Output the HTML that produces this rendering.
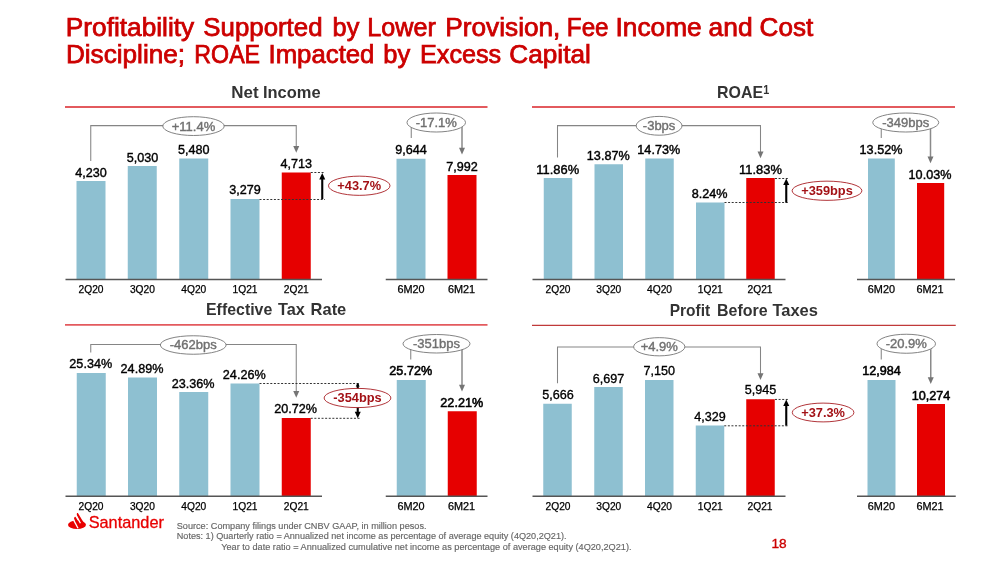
<!DOCTYPE html>
<html lang="en"><head><meta charset="utf-8"><title>Profitability Supported by Lower Provision, Fee Income and Cost Discipline</title>
<style>html,body{margin:0;padding:0;background:#fff}body{width:1000px;height:561px;overflow:hidden}svg{display:block;font-family:"Liberation Sans", sans-serif}</style></head><body>
<svg width="1000" height="561" viewBox="0 0 1000 561">
<rect width="1000" height="561" fill="#fff"/>
<text y="35.7" font-size="24.9" fill="#cc0000" stroke="#cc0000" stroke-width="0.75"><tspan x="65.89" textLength="128.23" lengthAdjust="spacingAndGlyphs">Profitability</tspan> <tspan x="203.36" textLength="119.14" lengthAdjust="spacingAndGlyphs">Supported</tspan> <tspan x="332.58" textLength="26.72" lengthAdjust="spacingAndGlyphs">by</tspan> <tspan x="367.38" textLength="68.41" lengthAdjust="spacingAndGlyphs">Lower</tspan> <tspan x="445.29" textLength="115.13" lengthAdjust="spacingAndGlyphs">Provision,</tspan> <tspan x="566.85" textLength="41.71" lengthAdjust="spacingAndGlyphs">Fee</tspan> <tspan x="615.59" textLength="86.07" lengthAdjust="spacingAndGlyphs">Income</tspan> <tspan x="708.54" textLength="44.09" lengthAdjust="spacingAndGlyphs">and</tspan> <tspan x="759.55" textLength="53.64" lengthAdjust="spacingAndGlyphs">Cost</tspan></text>
<text y="62.7" font-size="24.9" fill="#cc0000" stroke="#cc0000" stroke-width="0.75"><tspan x="65.90" textLength="119.21" lengthAdjust="spacingAndGlyphs">Discipline;</tspan> <tspan x="194.34" textLength="65.77" lengthAdjust="spacingAndGlyphs">ROAE</tspan> <tspan x="268.53" textLength="105.91" lengthAdjust="spacingAndGlyphs">Impacted</tspan> <tspan x="383.38" textLength="26.93" lengthAdjust="spacingAndGlyphs">by</tspan> <tspan x="419.97" textLength="81.26" lengthAdjust="spacingAndGlyphs">Excess</tspan> <tspan x="509.35" textLength="81.41" lengthAdjust="spacingAndGlyphs">Capital</tspan></text>
<line x1="65" y1="107" x2="487.5" y2="107" stroke="#e35a5e" stroke-width="1.8"/>
<text y="97.5" font-size="16.3" fill="#333" font-weight="bold"><tspan x="231.36" textLength="27.30" lengthAdjust="spacingAndGlyphs">Net</tspan> <tspan x="262.99" textLength="57.63" lengthAdjust="spacingAndGlyphs">Income</tspan></text>
<rect x="76.5" y="181" width="29" height="98.44999999999999" fill="#8ec0d1"/>
<rect x="127.75" y="166" width="29" height="113.44999999999999" fill="#8ec0d1"/>
<rect x="179.25" y="158.5" width="29" height="120.94999999999999" fill="#8ec0d1"/>
<rect x="230.5" y="199" width="29" height="80.44999999999999" fill="#8ec0d1"/>
<rect x="281.75" y="172.5" width="29" height="106.94999999999999" fill="#e60000"/>
<rect x="396.5" y="158.75" width="29" height="120.69999999999999" fill="#8ec0d1"/>
<rect x="447.5" y="175" width="29" height="104.44999999999999" fill="#e60000"/>
<line x1="65.5" y1="279.45" x2="322" y2="279.45" stroke="#555555" stroke-width="1.4"/>
<line x1="385.75" y1="279.45" x2="487.5" y2="279.45" stroke="#555555" stroke-width="1.4"/>
<text x="91" y="177" font-size="12.6" text-anchor="middle" fill="#000" stroke="#000" stroke-width="0.38">4,230</text>
<text x="142.4" y="161.75" font-size="12.6" text-anchor="middle" fill="#000" stroke="#000" stroke-width="0.38">5,030</text>
<text x="193.75" y="153.75" font-size="12.6" text-anchor="middle" fill="#000" stroke="#000" stroke-width="0.38">5,480</text>
<text x="245" y="194.25" font-size="12.6" text-anchor="middle" fill="#000" stroke="#000" stroke-width="0.38">3,279</text>
<text x="296.25" y="168" font-size="12.6" text-anchor="middle" fill="#000" stroke="#000" stroke-width="0.38">4,713</text>
<text x="411" y="154" font-size="12.6" text-anchor="middle" fill="#000" stroke="#000" stroke-width="0.38">9,644</text>
<text x="462" y="170.5" font-size="12.6" text-anchor="middle" fill="#000" stroke="#000" stroke-width="0.38">7,992</text>
<text x="91" y="293" font-size="10.2" text-anchor="middle" fill="#000" stroke="#000" stroke-width="0.25" textLength="25.0" lengthAdjust="spacingAndGlyphs">2Q20</text>
<text x="142.4" y="293" font-size="10.2" text-anchor="middle" fill="#000" stroke="#000" stroke-width="0.25" textLength="25.0" lengthAdjust="spacingAndGlyphs">3Q20</text>
<text x="193.75" y="293" font-size="10.2" text-anchor="middle" fill="#000" stroke="#000" stroke-width="0.25" textLength="25.0" lengthAdjust="spacingAndGlyphs">4Q20</text>
<text x="245" y="293" font-size="10.2" text-anchor="middle" fill="#000" stroke="#000" stroke-width="0.25" textLength="25.0" lengthAdjust="spacingAndGlyphs">1Q21</text>
<text x="296.25" y="293" font-size="10.2" text-anchor="middle" fill="#000" stroke="#000" stroke-width="0.25" textLength="25.0" lengthAdjust="spacingAndGlyphs">2Q21</text>
<text x="411" y="293" font-size="10.2" text-anchor="middle" fill="#000" stroke="#000" stroke-width="0.25" textLength="27.2" lengthAdjust="spacingAndGlyphs">6M20</text>
<text x="461.5" y="293" font-size="10.2" text-anchor="middle" fill="#000" stroke="#000" stroke-width="0.25" textLength="27.2" lengthAdjust="spacingAndGlyphs">6M21</text>
<polyline points="90.75,161 90.75,125.6 296.25,125.6 296.25,147" fill="none" stroke="#858585" stroke-width="1.05"/>
<polygon points="293.25,146.1 299.25,146.1 296.25,152.7" fill="#757575"/>
<ellipse cx="193.5" cy="126.1" rx="30.7" ry="9.4" fill="#fff" stroke="#757575" stroke-width="0.9"/>
<text x="193.5" y="130.5" font-size="13" text-anchor="middle" fill="#707070" stroke="#707070" stroke-width="0.4">+11.4%</text>
<line x1="411.25" y1="122.5" x2="411.25" y2="138" stroke="#858585" stroke-width="1.05"/>
<line x1="462" y1="122.5" x2="462" y2="148.75" stroke="#8a8a8a" stroke-width="1.5"/>
<polygon points="459.0,147.85 465.0,147.85 462,154.45" fill="#757575"/>
<ellipse cx="436.25" cy="122.5" rx="29.25" ry="9.5" fill="#fff" stroke="#757575" stroke-width="0.9"/>
<text x="436.25" y="126.9" font-size="13" text-anchor="middle" fill="#707070" stroke="#707070" stroke-width="0.4">-17.1%</text>
<line x1="310.75" y1="172.5" x2="325" y2="172.5" stroke="#333" stroke-width="1" stroke-dasharray="2 1.6"/>
<line x1="259.5" y1="199.5" x2="325" y2="199.5" stroke="#333" stroke-width="1" stroke-dasharray="2 1.6"/>
<line x1="322.25" y1="199" x2="322.25" y2="178" stroke="#000" stroke-width="2.1"/>
<polygon points="319.25,179.5 325.25,179.5 322.25,173" fill="#000"/>
<ellipse cx="359.25" cy="185.75" rx="30.75" ry="9.6" fill="#fff" stroke="#a31116" stroke-width="0.85"/>
<text x="359.25" y="190.15" font-size="12.8" text-anchor="middle" fill="#a31116" font-weight="bold">+43.7%</text>
<line x1="532" y1="107" x2="955" y2="107" stroke="#e35a5e" stroke-width="1.8"/>
<text y="97.5" font-size="16.3" fill="#333" font-weight="bold"><tspan x="717.02" textLength="46.02" lengthAdjust="spacingAndGlyphs">ROAE</tspan></text>
<rect x="543.75" y="178" width="28.5" height="101.44999999999999" fill="#8ec0d1"/>
<rect x="594.5" y="164.25" width="28.5" height="115.19999999999999" fill="#8ec0d1"/>
<rect x="645.25" y="158.5" width="28.5" height="120.94999999999999" fill="#8ec0d1"/>
<rect x="696" y="202.5" width="28.5" height="76.94999999999999" fill="#8ec0d1"/>
<rect x="746.25" y="178" width="28.5" height="101.44999999999999" fill="#e60000"/>
<rect x="868" y="158.5" width="26.8" height="120.94999999999999" fill="#8ec0d1"/>
<rect x="917" y="183" width="27.2" height="96.44999999999999" fill="#e60000"/>
<line x1="532.5" y1="279.45" x2="785.5" y2="279.45" stroke="#555555" stroke-width="1.4"/>
<line x1="857" y1="279.45" x2="955" y2="279.45" stroke="#555555" stroke-width="1.4"/>
<text x="557.75" y="173.8" font-size="12.6" text-anchor="middle" fill="#000" stroke="#000" stroke-width="0.42" textLength="42.8" lengthAdjust="spacingAndGlyphs">11.86%</text>
<text x="608.25" y="160.05" font-size="12.6" text-anchor="middle" fill="#000" stroke="#000" stroke-width="0.42" textLength="42.8" lengthAdjust="spacingAndGlyphs">13.87%</text>
<text x="658.75" y="154.05" font-size="12.6" text-anchor="middle" fill="#000" stroke="#000" stroke-width="0.42" textLength="42.8" lengthAdjust="spacingAndGlyphs">14.73%</text>
<text x="709.6" y="198.3" font-size="12.6" text-anchor="middle" fill="#000" stroke="#000" stroke-width="0.42" textLength="35.8" lengthAdjust="spacingAndGlyphs">8.24%</text>
<text x="760.5" y="173.8" font-size="12.6" text-anchor="middle" fill="#000" stroke="#000" stroke-width="0.42" textLength="42.8" lengthAdjust="spacingAndGlyphs">11.83%</text>
<text x="881" y="154.05" font-size="12.6" text-anchor="middle" fill="#000" stroke="#000" stroke-width="0.42" textLength="42.8" lengthAdjust="spacingAndGlyphs">13.52%</text>
<text x="930" y="178.8" font-size="12.6" text-anchor="middle" fill="#000" stroke="#000" stroke-width="0.42" textLength="42.8" lengthAdjust="spacingAndGlyphs">10.03%</text>
<text x="558" y="292.75" font-size="10.2" text-anchor="middle" fill="#000" stroke="#000" stroke-width="0.25" textLength="25.0" lengthAdjust="spacingAndGlyphs">2Q20</text>
<text x="608.75" y="292.75" font-size="10.2" text-anchor="middle" fill="#000" stroke="#000" stroke-width="0.25" textLength="25.0" lengthAdjust="spacingAndGlyphs">3Q20</text>
<text x="659.5" y="292.75" font-size="10.2" text-anchor="middle" fill="#000" stroke="#000" stroke-width="0.25" textLength="25.0" lengthAdjust="spacingAndGlyphs">4Q20</text>
<text x="710.25" y="292.75" font-size="10.2" text-anchor="middle" fill="#000" stroke="#000" stroke-width="0.25" textLength="25.0" lengthAdjust="spacingAndGlyphs">1Q21</text>
<text x="760" y="292.75" font-size="10.2" text-anchor="middle" fill="#000" stroke="#000" stroke-width="0.25" textLength="25.0" lengthAdjust="spacingAndGlyphs">2Q21</text>
<text x="881.4" y="292.75" font-size="10.2" text-anchor="middle" fill="#000" stroke="#000" stroke-width="0.25" textLength="27.2" lengthAdjust="spacingAndGlyphs">6M20</text>
<text x="930" y="292.75" font-size="10.2" text-anchor="middle" fill="#000" stroke="#000" stroke-width="0.25" textLength="27.2" lengthAdjust="spacingAndGlyphs">6M21</text>
<text x="763.3" y="94.1" font-size="12" text-anchor="start" fill="#333" font-weight="bold" textLength="6" lengthAdjust="spacingAndGlyphs">1</text>
<polyline points="557.5,157.5 557.5,125.6 760.5,125.6 760.5,152.5" fill="none" stroke="#858585" stroke-width="1.05"/>
<polygon points="757.5,151.6 763.5,151.6 760.5,158.2" fill="#757575"/>
<ellipse cx="659.1" cy="125.8" rx="22.9" ry="9.4" fill="#fff" stroke="#757575" stroke-width="0.9"/>
<text x="659.1" y="130.2" font-size="13" text-anchor="middle" fill="#707070" stroke="#707070" stroke-width="0.4">-3bps</text>
<line x1="881.25" y1="122.5" x2="881.25" y2="138" stroke="#858585" stroke-width="1.05"/>
<line x1="930.5" y1="122.5" x2="930.5" y2="157.5" stroke="#8a8a8a" stroke-width="1.5"/>
<polygon points="927.5,156.6 933.5,156.6 930.5,163.2" fill="#757575"/>
<ellipse cx="905.75" cy="122.5" rx="33" ry="9.5" fill="#fff" stroke="#757575" stroke-width="0.9"/>
<text x="905.75" y="126.9" font-size="13" text-anchor="middle" fill="#707070" stroke="#707070" stroke-width="0.4">-349bps</text>
<line x1="775" y1="178.5" x2="788.3" y2="178.5" stroke="#333" stroke-width="1" stroke-dasharray="2 1.6"/>
<line x1="724.5" y1="202.5" x2="788" y2="202.5" stroke="#333" stroke-width="1" stroke-dasharray="2 1.6"/>
<line x1="786.25" y1="202.5" x2="786.25" y2="184" stroke="#000" stroke-width="2.1"/>
<polygon points="783.25,185.0 789.25,185.0 786.25,178.5" fill="#000"/>
<ellipse cx="827" cy="190.75" rx="34.9" ry="9.6" fill="#fff" stroke="#a31116" stroke-width="0.85"/>
<text x="827" y="195.15" font-size="12.8" text-anchor="middle" fill="#a31116" font-weight="bold">+359bps</text>
<line x1="65" y1="324.9" x2="487.5" y2="324.9" stroke="#e35a5e" stroke-width="1.8"/>
<text y="315.4" font-size="16.3" fill="#333" font-weight="bold"><tspan x="206.02" textLength="66.25" lengthAdjust="spacingAndGlyphs">Effective</tspan> <tspan x="278.00" textLength="26.86" lengthAdjust="spacingAndGlyphs">Tax</tspan> <tspan x="310.59" textLength="35.71" lengthAdjust="spacingAndGlyphs">Rate</tspan></text>
<rect x="76.75" y="373" width="29" height="123.30000000000001" fill="#8ec0d1"/>
<rect x="128" y="377.5" width="29" height="118.80000000000001" fill="#8ec0d1"/>
<rect x="179.25" y="392" width="29" height="104.30000000000001" fill="#8ec0d1"/>
<rect x="230.5" y="383.5" width="29" height="112.80000000000001" fill="#8ec0d1"/>
<rect x="281.75" y="418" width="29" height="78.30000000000001" fill="#e60000"/>
<rect x="396.75" y="380" width="29" height="116.30000000000001" fill="#8ec0d1"/>
<rect x="447.75" y="411.25" width="29" height="85.05000000000001" fill="#e60000"/>
<line x1="65.5" y1="496.3" x2="322" y2="496.3" stroke="#555555" stroke-width="1.4"/>
<line x1="385.75" y1="496.3" x2="487.5" y2="496.3" stroke="#555555" stroke-width="1.4"/>
<text x="90.75" y="368.25" font-size="12.6" text-anchor="middle" fill="#000" stroke="#000" stroke-width="0.38" textLength="42.8" lengthAdjust="spacingAndGlyphs">25.34%</text>
<text x="142" y="372.5" font-size="12.6" text-anchor="middle" fill="#000" stroke="#000" stroke-width="0.38" textLength="42.8" lengthAdjust="spacingAndGlyphs">24.89%</text>
<text x="193.1" y="387.5" font-size="12.6" text-anchor="middle" fill="#000" stroke="#000" stroke-width="0.38" textLength="42.8" lengthAdjust="spacingAndGlyphs">23.36%</text>
<text x="244.25" y="378.75" font-size="12.6" text-anchor="middle" fill="#000" stroke="#000" stroke-width="0.38" textLength="42.8" lengthAdjust="spacingAndGlyphs">24.26%</text>
<text x="295.6" y="413" font-size="12.6" text-anchor="middle" fill="#000" stroke="#000" stroke-width="0.38" textLength="42.8" lengthAdjust="spacingAndGlyphs">20.72%</text>
<text x="410.75" y="375" font-size="12.6" text-anchor="middle" fill="#000" stroke="#000" stroke-width="0.55" textLength="42.8" lengthAdjust="spacingAndGlyphs">25.72%</text>
<text x="461.75" y="406.9" font-size="12.6" text-anchor="middle" fill="#000" stroke="#000" stroke-width="0.55" textLength="42.8" lengthAdjust="spacingAndGlyphs">22.21%</text>
<text x="91" y="509.9" font-size="10.2" text-anchor="middle" fill="#000" stroke="#000" stroke-width="0.25" textLength="25.0" lengthAdjust="spacingAndGlyphs">2Q20</text>
<text x="142.4" y="509.9" font-size="10.2" text-anchor="middle" fill="#000" stroke="#000" stroke-width="0.25" textLength="25.0" lengthAdjust="spacingAndGlyphs">3Q20</text>
<text x="193.75" y="509.9" font-size="10.2" text-anchor="middle" fill="#000" stroke="#000" stroke-width="0.25" textLength="25.0" lengthAdjust="spacingAndGlyphs">4Q20</text>
<text x="245" y="509.9" font-size="10.2" text-anchor="middle" fill="#000" stroke="#000" stroke-width="0.25" textLength="25.0" lengthAdjust="spacingAndGlyphs">1Q21</text>
<text x="296.25" y="509.9" font-size="10.2" text-anchor="middle" fill="#000" stroke="#000" stroke-width="0.25" textLength="25.0" lengthAdjust="spacingAndGlyphs">2Q21</text>
<text x="411" y="509.9" font-size="10.2" text-anchor="middle" fill="#000" stroke="#000" stroke-width="0.25" textLength="27.2" lengthAdjust="spacingAndGlyphs">6M20</text>
<text x="461.5" y="509.9" font-size="10.2" text-anchor="middle" fill="#000" stroke="#000" stroke-width="0.25" textLength="27.2" lengthAdjust="spacingAndGlyphs">6M21</text>
<polyline points="90.75,352.5 90.75,344.5 296.25,344.5 296.25,392" fill="none" stroke="#858585" stroke-width="1.05"/>
<polygon points="293.25,391.09999999999997 299.25,391.09999999999997 296.25,397.7" fill="#757575"/>
<ellipse cx="193.25" cy="345" rx="32.9" ry="9.25" fill="#fff" stroke="#757575" stroke-width="0.9"/>
<text x="193.25" y="349.4" font-size="13" text-anchor="middle" fill="#707070" stroke="#707070" stroke-width="0.4">-462bps</text>
<line x1="410.75" y1="343.75" x2="410.75" y2="359.5" stroke="#858585" stroke-width="1.05"/>
<line x1="462" y1="343.75" x2="462" y2="385.75" stroke="#8a8a8a" stroke-width="1.5"/>
<polygon points="459.0,384.84999999999997 465.0,384.84999999999997 462,391.45" fill="#757575"/>
<ellipse cx="436.5" cy="343.75" rx="33.5" ry="9.25" fill="#fff" stroke="#757575" stroke-width="0.9"/>
<text x="436.5" y="348.15" font-size="13" text-anchor="middle" fill="#707070" stroke="#707070" stroke-width="0.4">-351bps</text>
<line x1="259.5" y1="383.5" x2="360" y2="383.5" stroke="#333" stroke-width="1" stroke-dasharray="2 1.6"/>
<line x1="310.75" y1="418.3" x2="360" y2="418.3" stroke="#333" stroke-width="1" stroke-dasharray="2 1.6"/>
<line x1="357.75" y1="383.5" x2="357.75" y2="412" stroke="#000" stroke-width="2.1"/>
<polygon points="354.75,411.7 360.75,411.7 357.75,418.2" fill="#000"/>
<polygon points="355.75,386.5 359.75,386.5 357.75,383.5" fill="#000"/>
<ellipse cx="357.5" cy="398" rx="33.4" ry="9.6" fill="#fff" stroke="#a31116" stroke-width="0.85"/>
<text x="357.5" y="402.4" font-size="12.8" text-anchor="middle" fill="#a31116" font-weight="bold">-354bps</text>
<line x1="532" y1="325.4" x2="955.75" y2="325.4" stroke="#c03a3a" stroke-width="1.1"/>
<text y="315.9" font-size="16.3" fill="#333" font-weight="bold"><tspan x="669.65" textLength="40.49" lengthAdjust="spacingAndGlyphs">Profit</tspan> <tspan x="717.02" textLength="50.55" lengthAdjust="spacingAndGlyphs">Before</tspan> <tspan x="772.40" textLength="45.57" lengthAdjust="spacingAndGlyphs">Taxes</tspan></text>
<rect x="543.25" y="403.75" width="28.5" height="92.55000000000001" fill="#8ec0d1"/>
<rect x="594.25" y="387" width="28.5" height="109.30000000000001" fill="#8ec0d1"/>
<rect x="645" y="380" width="28.5" height="116.30000000000001" fill="#8ec0d1"/>
<rect x="695.75" y="425.5" width="28.5" height="70.80000000000001" fill="#8ec0d1"/>
<rect x="746.25" y="399.25" width="28.5" height="97.05000000000001" fill="#e60000"/>
<rect x="867.5" y="380" width="28" height="116.30000000000001" fill="#8ec0d1"/>
<rect x="917" y="404" width="28" height="92.30000000000001" fill="#e60000"/>
<line x1="532.5" y1="496.3" x2="785.5" y2="496.3" stroke="#555555" stroke-width="1.4"/>
<line x1="857" y1="496.3" x2="955.75" y2="496.3" stroke="#555555" stroke-width="1.4"/>
<text x="557.9" y="399.25" font-size="12.6" text-anchor="middle" fill="#000" stroke="#000" stroke-width="0.33">5,666</text>
<text x="608.4" y="382.5" font-size="12.6" text-anchor="middle" fill="#000" stroke="#000" stroke-width="0.33">6,697</text>
<text x="659.25" y="375" font-size="12.6" text-anchor="middle" fill="#000" stroke="#000" stroke-width="0.33">7,150</text>
<text x="709.9" y="420.75" font-size="12.6" text-anchor="middle" fill="#000" stroke="#000" stroke-width="0.33">4,329</text>
<text x="760.6" y="394.25" font-size="12.6" text-anchor="middle" fill="#000" stroke="#000" stroke-width="0.33">5,945</text>
<text x="881.6" y="375" font-size="12.6" text-anchor="middle" fill="#000" stroke="#000" stroke-width="0.55">12,984</text>
<text x="931" y="399.5" font-size="12.6" text-anchor="middle" fill="#000" stroke="#000" stroke-width="0.55">10,274</text>
<text x="558" y="509.9" font-size="10.2" text-anchor="middle" fill="#000" stroke="#000" stroke-width="0.25" textLength="25.0" lengthAdjust="spacingAndGlyphs">2Q20</text>
<text x="608.75" y="509.9" font-size="10.2" text-anchor="middle" fill="#000" stroke="#000" stroke-width="0.25" textLength="25.0" lengthAdjust="spacingAndGlyphs">3Q20</text>
<text x="659.5" y="509.9" font-size="10.2" text-anchor="middle" fill="#000" stroke="#000" stroke-width="0.25" textLength="25.0" lengthAdjust="spacingAndGlyphs">4Q20</text>
<text x="710.25" y="509.9" font-size="10.2" text-anchor="middle" fill="#000" stroke="#000" stroke-width="0.25" textLength="25.0" lengthAdjust="spacingAndGlyphs">1Q21</text>
<text x="760" y="509.9" font-size="10.2" text-anchor="middle" fill="#000" stroke="#000" stroke-width="0.25" textLength="25.0" lengthAdjust="spacingAndGlyphs">2Q21</text>
<text x="881.4" y="509.9" font-size="10.2" text-anchor="middle" fill="#000" stroke="#000" stroke-width="0.25" textLength="27.2" lengthAdjust="spacingAndGlyphs">6M20</text>
<text x="930" y="509.9" font-size="10.2" text-anchor="middle" fill="#000" stroke="#000" stroke-width="0.25" textLength="27.2" lengthAdjust="spacingAndGlyphs">6M21</text>
<polyline points="557.5,383.25 557.5,347 760.5,347 760.5,374.25" fill="none" stroke="#858585" stroke-width="1.05"/>
<polygon points="757.5,373.34999999999997 763.5,373.34999999999997 760.5,379.95" fill="#757575"/>
<ellipse cx="659.25" cy="346.75" rx="25.6" ry="9.1" fill="#fff" stroke="#757575" stroke-width="0.9"/>
<text x="659.25" y="351.15" font-size="13" text-anchor="middle" fill="#707070" stroke="#707070" stroke-width="0.4">+4.9%</text>
<line x1="881.25" y1="343.75" x2="881.25" y2="359.5" stroke="#858585" stroke-width="1.05"/>
<line x1="930.75" y1="343.75" x2="930.75" y2="378.25" stroke="#8a8a8a" stroke-width="1.5"/>
<polygon points="927.75,377.34999999999997 933.75,377.34999999999997 930.75,383.95" fill="#757575"/>
<ellipse cx="906.25" cy="343.75" rx="29.25" ry="9.5" fill="#fff" stroke="#757575" stroke-width="0.9"/>
<text x="906.25" y="348.15" font-size="13" text-anchor="middle" fill="#707070" stroke="#707070" stroke-width="0.4">-20.9%</text>
<line x1="775" y1="399.45" x2="788.25" y2="399.45" stroke="#333" stroke-width="1" stroke-dasharray="2 1.6"/>
<line x1="724.25" y1="425.8" x2="788.25" y2="425.8" stroke="#333" stroke-width="1" stroke-dasharray="2 1.6"/>
<line x1="786.25" y1="425.5" x2="786.25" y2="405" stroke="#000" stroke-width="2.1"/>
<polygon points="783.25,406.0 789.25,406.0 786.25,399.5" fill="#000"/>
<ellipse cx="823.1" cy="412.5" rx="30.8" ry="9.4" fill="#fff" stroke="#a31116" stroke-width="0.85"/>
<text x="823.1" y="416.9" font-size="12.8" text-anchor="middle" fill="#a31116" font-weight="bold">+37.3%</text>
<g fill="#e80000" stroke="none">
<ellipse cx="77" cy="524.7" rx="9" ry="4.3"/>
<polygon points="77.0,513.1 77.9,512.9 83.8,522.8 80.6,523.6 76.6,515.4"/>
<polygon points="74.5,517.0 75.5,516.8 80.8,525.7 77.8,526.7 74.0,518.8"/>
</g>
<g stroke="#fff" stroke-width="1.3" stroke-linecap="butt">
<line x1="73.3" y1="519.4" x2="78.0" y2="528.2"/>
<line x1="75.9" y1="514.7" x2="80.4" y2="523.2"/>
</g>
<text x="88.7" y="528.1" font-size="15.7" text-anchor="start" fill="#e80000" stroke="#e80000" stroke-width="0.3" textLength="75.2" lengthAdjust="spacingAndGlyphs">Santander</text>
<text x="176.75" y="528.6" font-size="9.12" text-anchor="start" fill="#666" stroke="#666" stroke-width="0.15" textLength="249.75" lengthAdjust="spacingAndGlyphs">Source: Company filings under CNBV GAAP, in million pesos.</text>
<text x="176.75" y="539.2" font-size="9.12" text-anchor="start" fill="#666" stroke="#666" stroke-width="0.15" textLength="389.75" lengthAdjust="spacingAndGlyphs">Notes: 1) Quarterly ratio = Annualized net income as percentage of average equity (4Q20,2Q21).</text>
<text x="221.25" y="549.9" font-size="9.12" text-anchor="start" fill="#666" stroke="#666" stroke-width="0.15" textLength="410.25" lengthAdjust="spacingAndGlyphs">Year to date ratio = Annualized cumulative net income as percentage of average equity (4Q20,2Q21).</text>
<text x="771.4" y="547.6" font-size="13.3" text-anchor="start" fill="#cc0000" stroke="#cc0000" stroke-width="0.35" textLength="15.2" lengthAdjust="spacingAndGlyphs">18</text>
</svg></body></html>
